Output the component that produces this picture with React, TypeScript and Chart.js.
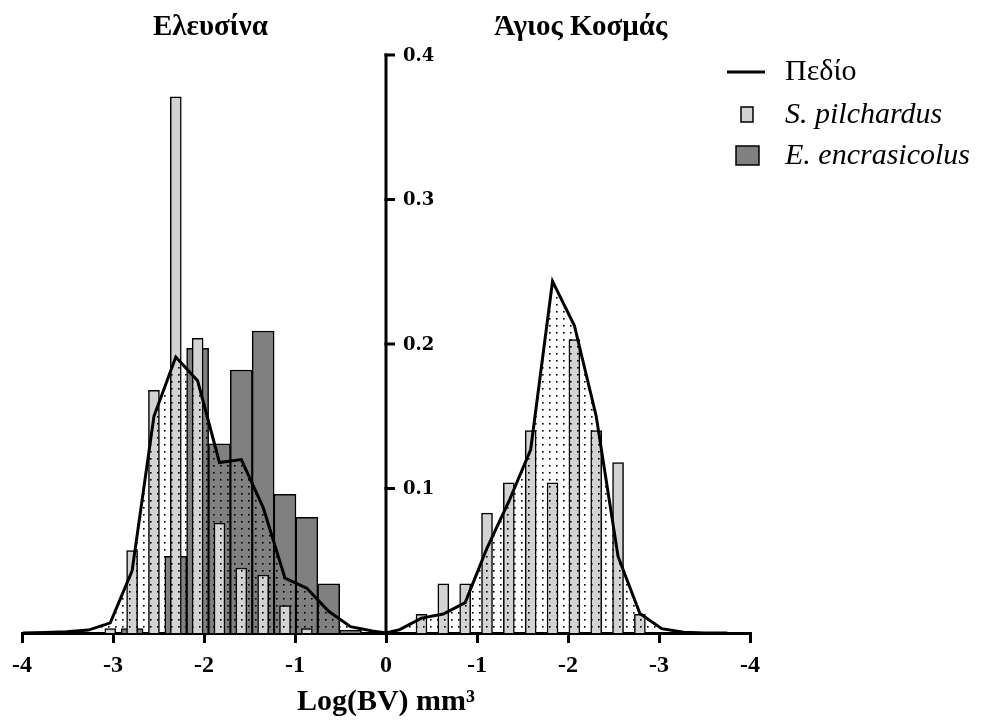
import React, { useEffect, useRef } from 'react';
import { Chart, registerables } from 'chart.js';

Chart.register(...registerables);

// Bin centres, Log(BV) mm³ (left = Ελευσίνα as negative values, right = Άγιος Κοσμάς mirrored)
const binCentersEleusina = [-3.03, -2.79, -2.55, -2.31, -2.07, -1.83, -1.59, -1.35, -1.11, -0.87, -0.63, -0.39];
const pilchardusEleusina = [0.003, 0.057, 0.168, 0.371, 0.204, 0.076, 0.045, 0.040, 0.019, 0.003, 0, 0];
const encrasicolusEleusina = [0, 0.003, 0, 0.053, 0.197, 0.131, 0.182, 0.209, 0.096, 0.080, 0.034, 0.002];

const binCentersKosmas = [0.39, 0.63, 0.87, 1.11, 1.35, 1.59, 1.83, 2.07, 2.31, 2.55, 2.79];
const pilchardusKosmas = [0.013, 0.034, 0.034, 0.083, 0.104, 0.140, 0.104, 0.203, 0.140, 0.118, 0.013];

// Field (Πεδίο) distribution, both stations
const fieldX = [-3.99, -3.75, -3.51, -3.27, -3.03, -2.79, -2.55, -2.31, -2.07, -1.83, -1.59, -1.35, -1.11, -0.87, -0.63, -0.39, -0.15, 0,
  0.15, 0.39, 0.63, 0.87, 1.11, 1.35, 1.59, 1.83, 2.07, 2.31, 2.55, 2.79, 3.03, 3.27, 3.51, 3.75];
const fieldY = [0, 0.0003, 0.0008, 0.002, 0.007, 0.043, 0.150, 0.191, 0.1745, 0.118, 0.120, 0.087, 0.038, 0.031, 0.015, 0.0044, 0.0014, 0,
  0.0023, 0.0103, 0.0131, 0.021, 0.0588, 0.091, 0.127, 0.2434, 0.2128, 0.150, 0.053, 0.0135, 0.003, 0.0005, 0, 0];

const xTicks = [-4, -3, -2, -1, 0, 1, 2, 3, 4];
const yTicks = [0.1, 0.2, 0.3, 0.4];

const stationTitles = ['Ελευσίνα', 'Άγιος Κοσμάς'];
const stationTitleX = [-1.93, 2.14];
const legendLabels = ['Πεδίο', 'S. pilchardus', 'E. encrasicolus'];
const xAxisTitle = 'Log(BV) mm³';

const LIGHT = '#d3d3d3';
const DARK = '#808080';

function toPoints(xs: number[], ys: number[]) {
  return xs.map((x, i) => ({ x, y: ys[i] > 0 ? ys[i] : null }));
}

export default function App() {
  const ref = useRef<HTMLCanvasElement>(null);

  useEffect(() => {
    const canvas = ref.current!;
    const ctx = canvas.getContext('2d')!;

    const pc = document.createElement('canvas');
    pc.width = 7;
    pc.height = 7;
    const pctx = pc.getContext('2d')!;
    pctx.fillStyle = '#000';
    pctx.fillRect(3, 3, 1.6, 1.6);
    const pattern = ctx.createPattern(pc, 'repeat')!;

    const centerYAxis = {
      id: 'centerYAxis',
      afterDatasetsDraw(chart: any) {
        const { ctx: c, scales } = chart;
        const xs = scales.x;
        const ys = scales.y;
        const x0 = xs.getPixelForValue(0);
        c.save();
        c.strokeStyle = '#000';
        c.lineWidth = 3;
        c.beginPath();
        c.moveTo(x0, ys.getPixelForValue(0));
        c.lineTo(x0, ys.getPixelForValue(0.4) - 1.5);
        c.stroke();
        c.font = 'bold 18px "DejaVu Serif"';
        c.fillStyle = '#000';
        c.textAlign = 'left';
        c.textBaseline = 'middle';
        yTicks.forEach((t) => {
          const py = ys.getPixelForValue(t);
          c.beginPath();
          c.moveTo(x0 - 1.5, py);
          c.lineTo(x0 + 9, py);
          c.stroke();
          c.fillText(t.toFixed(1), x0 + 17, py + 1);
        });
        c.restore();
      },
    };

    const annotations = {
      id: 'annotations',
      afterDraw(chart: any) {
        const { ctx: c, scales } = chart;
        c.save();
        c.fillStyle = '#000';
        c.textAlign = 'center';
        c.textBaseline = 'middle';
        c.font = 'bold 29px "Liberation Serif"';
        stationTitles.forEach((t, i) => {
          c.fillText(t, scales.x.getPixelForValue(stationTitleX[i]), 28);
        });
        // legend
        c.textAlign = 'left';
        c.strokeStyle = '#000';
        c.lineWidth = 3;
        c.beginPath();
        c.moveTo(727, 72);
        c.lineTo(765, 72);
        c.stroke();
        c.font = '30px "Liberation Serif"';
        c.fillText(legendLabels[0], 785, 72);
        c.lineWidth = 1.5;
        c.fillStyle = LIGHT;
        c.fillRect(741, 107, 12, 15);
        c.strokeRect(741, 107, 12, 15);
        c.fillStyle = DARK;
        c.fillRect(736, 146, 23, 19);
        c.strokeRect(736, 146, 23, 19);
        c.fillStyle = '#000';
        c.font = 'italic 30px "Liberation Serif"';
        c.fillText(legendLabels[1], 785, 115);
        c.fillText(legendLabels[2], 785, 156);
        c.restore();
      },
    };

    const chart = new Chart(canvas, {
      data: {
        datasets: [
          {
            type: 'line',
            label: legendLabels[0],
            data: fieldX.map((x, i) => ({ x, y: fieldY[i] })),
            borderColor: '#000',
            borderWidth: 3,
            pointRadius: 0,
            tension: 0,
            fill: 'origin',
            backgroundColor: pattern as any,
            order: 0,
          },
          {
            type: 'bar',
            label: legendLabels[1],
            data: [...toPoints(binCentersEleusina, pilchardusEleusina), ...toPoints(binCentersKosmas, pilchardusKosmas)],
            backgroundColor: LIGHT,
            borderColor: '#000',
            borderWidth: 1.5,
            barThickness: 11,
            grouped: false,
            order: 1,
          } as any,
          {
            type: 'bar',
            label: legendLabels[2],
            data: toPoints(binCentersEleusina, encrasicolusEleusina),
            backgroundColor: DARK,
            borderColor: '#000',
            borderWidth: 1.5,
            barThickness: 22,
            grouped: false,
            order: 2,
          } as any,
        ],
      },
      options: {
        animation: false,
        responsive: true,
        maintainAspectRatio: false,
        layout: { padding: { left: 22, right: 232, top: 55, bottom: 8 } },
        plugins: { legend: { display: false }, tooltip: { enabled: false } },
        scales: {
          x: {
            type: 'linear',
            min: -4,
            max: 4,
            offset: false,
            afterBuildTicks: (scale: any) => {
              scale.ticks = xTicks.map((v) => ({ value: v }));
            },
            ticks: {
              color: '#000',
              font: { family: '"Liberation Serif"', size: 24, weight: 'bold' },
              padding: 8,
              maxRotation: 0,
              callback: (v: any) => String(v <= 0 ? v : -v),
            },
            grid: { display: true, offset: false, drawOnChartArea: false, drawTicks: true, tickLength: 10, lineWidth: 3, color: '#000' },
            border: { display: true, width: 3, color: '#000' },
            title: {
              display: true,
              text: xAxisTitle,
              color: '#000',
              font: { family: '"Liberation Serif"', size: 30, weight: 'bold', lineHeight: 0.94 },
              padding: { top: 0, bottom: 0 },
            },
          },
          y: {
            type: 'linear',
            min: 0,
            max: 0.4,
            display: false,
          },
        },
      },
      plugins: [centerYAxis, annotations],
    });

    return () => chart.destroy();
  }, []);

  return (
    <div style={{ position: 'fixed', left: 0, top: 0, width: 982, height: 724, background: '#fff' }}>
      <canvas ref={ref} />
    </div>
  );
}
